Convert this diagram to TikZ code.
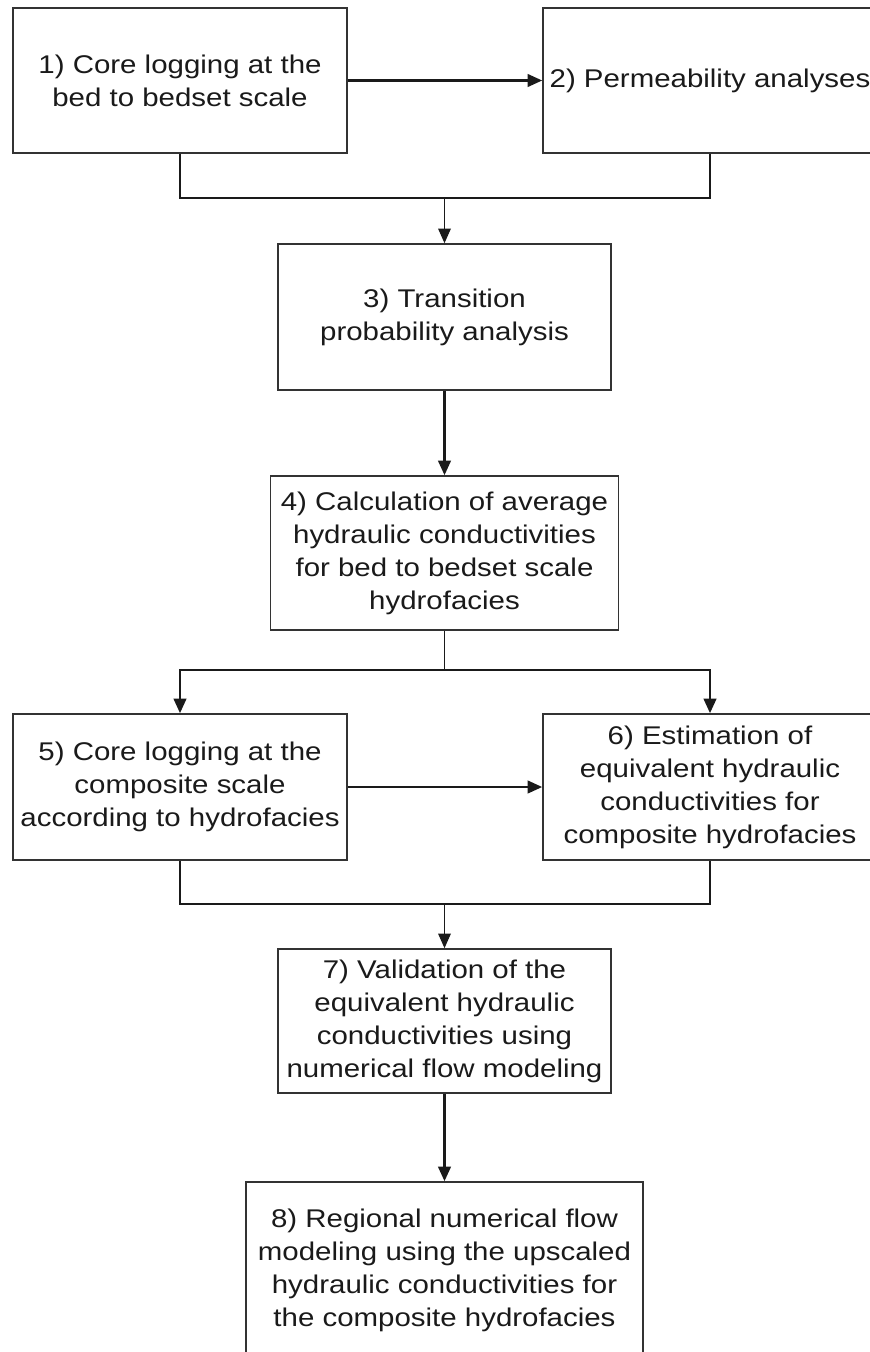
\documentclass[tikz,border=0pt]{standalone}
\usepackage{fontspec}
\setmainfont{Liberation Sans}[FakeStretch=1.15]
\usetikzlibrary{arrows.meta}
\definecolor{boxline}{HTML}{333333}
\definecolor{flowline}{HTML}{1A1A1A}
\definecolor{inkgray}{HTML}{1A1A1A}
\newcommand{\pxu}{0.75pt}

\begin{document}
\begin{tikzpicture}[x=0.75pt,y=-0.75pt,line join=miter,
  stepbox/.style={draw=boxline,line width=1.2pt,fill=white,text=inkgray,align=center,
    inner sep=0pt,font=\fontsize{19.2pt}{24.8pt}\selectfont},
  thickflow/.style={draw=flowline,line width=1.8pt},
  thinflow/.style={draw=flowline,line width=0.9pt},
  headed/.style={-{Triangle[length=11pt,width=9.5pt]}}]
  \useasboundingbox (0,0) rectangle (870,1352);
  \clip (0,0) rectangle (870,1352);
  \node[stepbox,minimum width=334*\pxu,minimum height=145*\pxu] (s1) at (180,80.5)
    {1) Core logging at the\\bed to bedset scale};
  \node[stepbox,minimum width=334*\pxu,minimum height=145*\pxu] (s2) at (710,80.5)
    {2) Permeability analyses};
  \node[stepbox,minimum width=333*\pxu,minimum height=146*\pxu] (s3) at (444.5,317)
    {3) Transition\\probability analysis};
  \node[stepbox,minimum width=348*\pxu,minimum height=154*\pxu] (s4) at (444.5,553)
    {4) Calculation of average\\hydraulic conductivities\\for bed to bedset scale\\hydrofacies};
  \node[stepbox,minimum width=334*\pxu,minimum height=146*\pxu] (s5) at (180,787)
    {5) Core logging at the\\composite scale\\according to hydrofacies};
  \node[stepbox,minimum width=334*\pxu,minimum height=146*\pxu] (s6) at (710,787)
    {6) Estimation of\\equivalent hydraulic\\conductivities for\\composite hydrofacies};
  \node[stepbox,minimum width=333*\pxu,minimum height=144*\pxu] (s7) at (444.5,1021)
    {7) Validation of the\\equivalent hydraulic\\conductivities using\\numerical flow modeling};
  \node[stepbox,minimum width=397*\pxu,minimum height=176*\pxu] (s8) at (444.5,1270)
    {8) Regional numerical flow\\modeling using the upscaled\\hydraulic conductivities for\\the composite hydrofacies};
  \coordinate (J1) at (444.5,198);
  \coordinate (J2) at (444.5,670);
  \coordinate (J3) at (444.5,904);
  \draw[thickflow,headed] (s1.east) -- (s2.west);
  \draw[thickflow] (s1.south) |- (J1) -| (s2.south);
  \draw[thinflow,headed] (J1) -- (s3.north);
  \draw[thickflow,headed] (s3.south) -- (s4.north);
  \draw[thinflow] (s4.south) -- (J2);
  \draw[thickflow,headed] (J2) -| (s5.north);
  \draw[thickflow,headed] (J2) -| (s6.north);
  \draw[thickflow,headed] (s5.east) -- (s6.west);
  \draw[thickflow] (s5.south) |- (J3) -| (s6.south);
  \draw[thinflow,headed] (J3) -- (s7.north);
  \draw[thickflow,headed] (s7.south) -- (s8.north);
\end{tikzpicture}
\end{document}
